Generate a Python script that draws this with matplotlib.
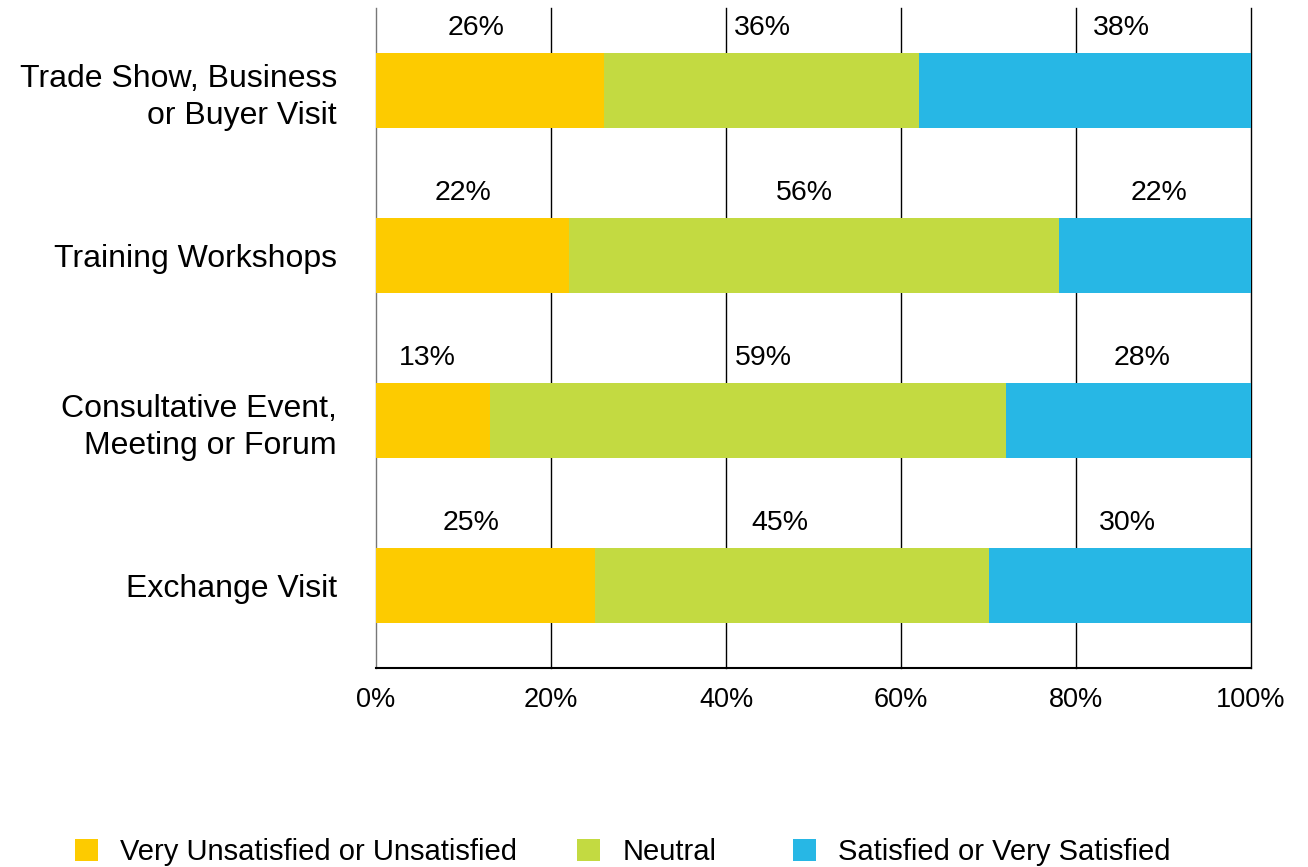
import matplotlib.pyplot as plt
import numpy as np
from matplotlib.patches import Patch

plt.rcParams['font.family'] = ['Liberation Sans', 'DejaVu Sans']

categories = ['Trade Show, Business\nor Buyer Visit', 'Training Workshops',
              'Consultative Event,\nMeeting or Forum', 'Exchange Visit']
unsatisfied = [26, 22, 13, 25]
neutral = [36, 56, 59, 45]
satisfied = [38, 22, 28, 30]
series_names = ['Very Unsatisfied or Unsatisfied', 'Neutral', 'Satisfied or Very Satisfied']
colors = ['#FDCB00', '#C3DA41', '#27B7E5']
xticks = [0, 20, 40, 60, 80, 100]

# small horizontal nudges (in %) so value labels clear the grid lines
nudge = [[-1.6, 0.2, 4.2],
         [-1.0, -1.0, 0.5],
         [-0.6, 1.8, 1.5],
         [-1.6, -1.4, 0.9]]
legend_x = [75, 577, 793]

fig = plt.figure(figsize=(13.08, 8.67), dpi=100)
ax = fig.add_axes([376/1308, 1 - 668/867, (1251 - 376)/1308, (668 - 8)/867])

y = np.arange(len(categories))
left = np.zeros(len(categories))
for k, (vals, col) in enumerate(zip([unsatisfied, neutral, satisfied], colors)):
    vals = np.array(vals, dtype=float)
    ax.barh(y, vals, left=left, height=0.455, color=col, zorder=3)
    for i, (yi, l, v) in enumerate(zip(y, left, vals)):
        ax.text(l + v / 2 + nudge[i][k], yi - 0.38, f'{int(v)}%', ha='center', va='center',
                fontsize=20.5, color='black', zorder=4)
    left += vals

ax.set_xlim(0, 100)
ax.set_ylim(len(categories) - 0.5, -0.5)
ax.set_xticks(xticks)
ax.set_xticklabels([f'{t}%' for t in xticks], fontsize=19.5)
ax.set_yticks(y)
ax.set_yticklabels(categories, fontsize=23, linespacing=1.32)
ax.tick_params(axis='both', length=0)
ax.tick_params(axis='x', pad=14)
ax.tick_params(axis='y', pad=28)

for t in xticks[1:]:
    ax.axvline(t, color='black', lw=1.0, zorder=1, clip_on=False)
for s in ['top', 'right']:
    ax.spines[s].set_visible(False)
ax.spines['left'].set_color('#777777')
ax.spines['left'].set_linewidth(1.0)
ax.spines['bottom'].set_color('black')
ax.spines['bottom'].set_linewidth(1.5)

# one legend per series so each entry sits at its own column
for name, col, lx in zip(series_names, colors, legend_x):
    fig.legend([Patch(facecolor=col, edgecolor='none')], [name], loc='center left',
               bbox_to_anchor=(lx/1308, 1 - 852/867), frameon=False,
               fontsize=21, handlelength=0.8, handleheight=0.8,
               handletextpad=0.75, borderpad=0, borderaxespad=0)

fig.savefig('out.png', dpi=100)
